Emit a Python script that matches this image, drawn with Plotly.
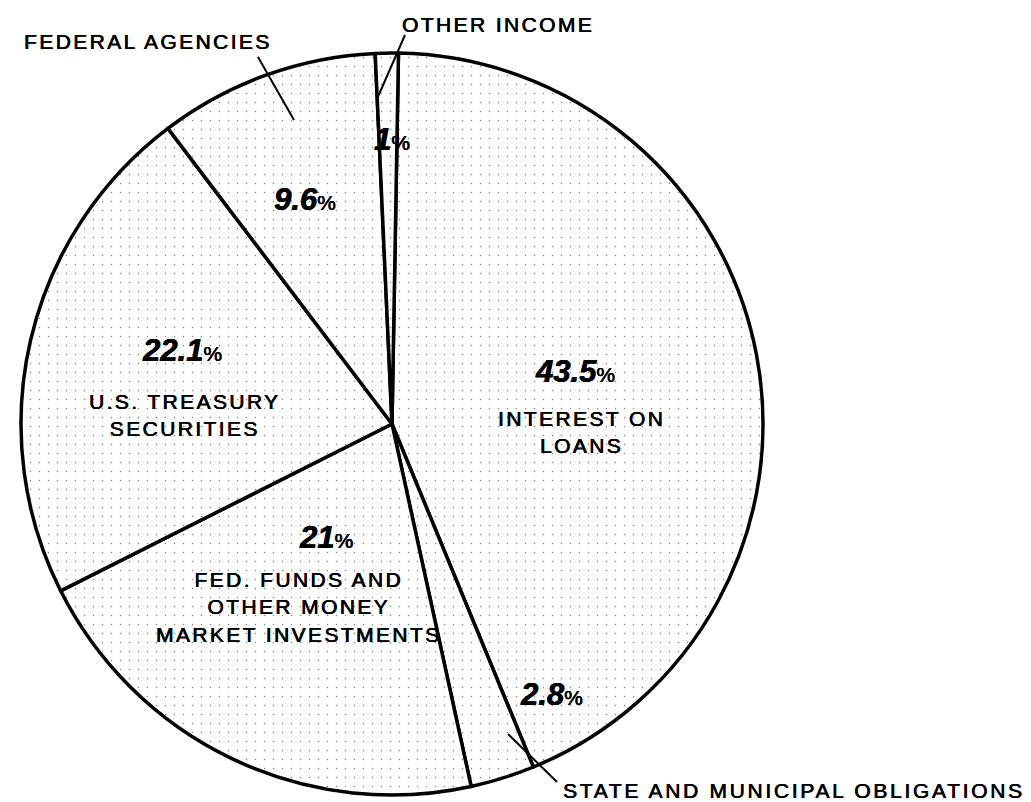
import plotly.graph_objects as go

# ---- data ----
categories = ["INTEREST ON LOANS", "STATE AND MUNICIPAL OBLIGATIONS",
              "FED. FUNDS AND OTHER MONEY MARKET INVESTMENTS",
              "U.S. TREASURY SECURITIES", "FEDERAL AGENCIES", "OTHER INCOME"]
shares = [43.5, 2.8, 21, 22.1, 9.6, 1]
share_labels = ["43.5", "2.8", "21", "22.1", "9.6", "1"]

W, H = 1031, 802


def px(x, y):
    return x / W, 1 - y / H


fig = go.Figure(go.Pie(
    labels=categories, values=shares, sort=False, direction="clockwise",
    rotation=1, textinfo="none", hoverinfo="label+percent",
    marker=dict(colors=["white"] * 6,
                line=dict(color="black", width=3.5),
                pattern=dict(shape=".", fgcolor="#808080", bgcolor="white",
                             size=9, solidity=0.02)),
    domain=dict(x=[13 / W, 755 / W], y=[1 - 787 / H, 1 - 45 / H]),
    showlegend=False,
))

FONT = "Liberation Sans, Arial, sans-serif"
THICK = "0.4px 0px 0px #000, -0.2px 0px 0px #000"


def spaced(t, sp=2.4):
    return "<br>".join(f"<span style='letter-spacing:{sp}px'>{ln}</span>" for ln in t.split("\n"))


def pct(v):
    return f"<b><i>{v}</i></b><span style='font-size:21px'>%</span>"


annotations = []


def ann(text, x, y, size=21, xanchor="center"):
    ax, ay = px(x, y)
    annotations.append(dict(text=text, x=ax, y=ay, xref="paper", yref="paper",
                            showarrow=False, xanchor=xanchor, yanchor="middle",
                            font=dict(family=FONT, size=size, color="black",
                                      shadow=THICK)))


# percentages
pct_pos = {"43.5": (567, 364), "2.8": (543, 686), "21": (318, 529),
           "22.1": (174, 342), "9.6": (297, 192), "1": (384, 131)}
for s in share_labels:
    ann(pct(s), *pct_pos[s], size=31)

# inside labels
ann(spaced("INTEREST ON\nLOANS"), 573, 424)
ann(spaced("U.S. TREASURY\nSECURITIES"), 176, 407)
ann(spaced("FED. FUNDS AND\nOTHER MONEY\nMARKET INVESTMENTS"), 291, 599)

# outside labels
ann(spaced("FEDERAL AGENCIES"), 14, 33, xanchor="left")
ann(spaced("OTHER INCOME"), 392, 17, xanchor="left")
ann(spaced("STATE AND MUNICIPAL OBLIGATIONS", 2.7), 553, 782, xanchor="left")

shapes = []


def leader(x0, y0, x1, y1):
    a0, b0 = px(x0, y0)
    a1, b1 = px(x1, y1)
    shapes.append(dict(type="line", xref="paper", yref="paper",
                       x0=a0, y0=b0, x1=a1, y1=b1,
                       line=dict(color="black", width=2)))


leader(250, 49, 286, 112)
leader(397, 27, 369, 91)
leader(500, 726, 549, 774)

fig.update_layout(
    width=W, height=H, margin=dict(l=0, r=0, t=0, b=0),
    paper_bgcolor="white", plot_bgcolor="white",
    annotations=annotations, shapes=shapes,
)

fig.write_html("out.html")
